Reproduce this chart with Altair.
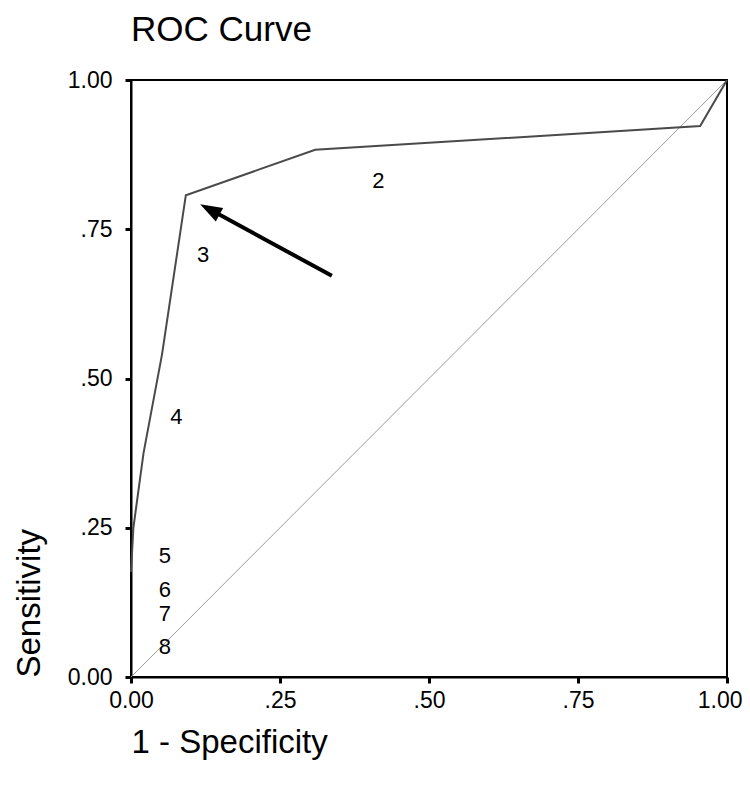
import math
import altair as alt
import pandas as pd

# ---- data ----
roc_fpr = [0.0, 0.004, 0.021, 0.052, 0.092, 0.309, 0.955, 1.0]
roc_tpr = [0.176, 0.25, 0.375, 0.54, 0.807, 0.883, 0.923, 1.0]

diag_x = [0.0, 1.0]
diag_y = [0.0, 1.0]

label_text = ["2", "3", "4", "5", "6", "7", "8"]
label_x = [0.415, 0.121, 0.076, 0.057, 0.057, 0.057, 0.057]
label_y = [0.831, 0.707, 0.436, 0.202, 0.146, 0.106, 0.050]

arrow_tail = [0.337, 0.672]
arrow_tip = [0.116, 0.792]

tick_values = [0.0, 0.25, 0.5, 0.75, 1.0]

W, H = 596, 597
FONT = "Liberation Sans"

roc_df = pd.DataFrame({"fpr": roc_fpr, "tpr": roc_tpr, "order": list(range(len(roc_fpr)))})
diag_df = pd.DataFrame({"fpr": diag_x, "tpr": diag_y})
lab_df = pd.DataFrame({"fpr": label_x, "tpr": label_y, "text": label_text})

# shaft stops a little before the tip (hidden under the head)
shaft_end = [arrow_tip[0] + 0.1 * (arrow_tail[0] - arrow_tip[0]),
             arrow_tip[1] + 0.1 * (arrow_tail[1] - arrow_tip[1])]
shaft_df = pd.DataFrame({"fpr": [arrow_tail[0], shaft_end[0]],
                         "tpr": [arrow_tail[1], shaft_end[1]],
                         "order": [0, 1]})
head_df = pd.DataFrame({"fpr": [arrow_tip[0]], "tpr": [arrow_tip[1]]})

# head orientation in screen pixels
dx = (arrow_tail[0] - arrow_tip[0]) * W
dy = -(arrow_tail[1] - arrow_tip[1]) * H
head_angle = (math.degrees(math.atan2(-dx, dy)) + 360) % 360

label_expr = "datum.value > 0 && datum.value < 1 ? slice(datum.label, 1) : datum.label"

x_scale = alt.Scale(domain=[0, 1], nice=False, zero=False)
y_scale = alt.Scale(domain=[0, 1], nice=False, zero=False)

x_axis = alt.Axis(
    title="1 - Specificity", values=tick_values, format=".2f", labelExpr=label_expr,
    grid=False, domainColor="black", domainWidth=2, tickColor="black", tickWidth=3,
    tickSize=6, labelFont=FONT, labelFontSize=23, labelColor="black", labelPadding=6,
    labelFlush=False, labelOverlap=False,
    labelAlign={"expr": "datum.value == 1 ? 'right' : 'center'"},
    labelOffset={"expr": "datum.value == 1 ? 15 : 0"},
    titleFont=FONT, titleFontSize=33, titleFontWeight="normal", titleColor="black",
    titleAnchor="start", titleAlign="left", titleBaseline="alphabetic", titleX=0, titleY=75,
)
y_axis = alt.Axis(
    title="Sensitivity", values=tick_values, format=".2f", labelExpr=label_expr,
    grid=False, domainColor="black", domainWidth=2, tickColor="black", tickWidth=3,
    tickSize=6, labelFont=FONT, labelFontSize=23, labelColor="black", labelPadding=13,
    labelFlush=False, labelOverlap=False,
    titleFont=FONT, titleFontSize=33, titleFontWeight="normal", titleColor="black",
    titleAngle=270, titleAlign="left", titleBaseline="alphabetic", titleX=-92, titleY=H,
)

base_x = alt.X("fpr:Q", scale=x_scale, axis=x_axis)
base_y = alt.Y("tpr:Q", scale=y_scale, axis=y_axis)

diag = alt.Chart(diag_df).mark_line(color="#9a9a9a", strokeWidth=1).encode(x=base_x, y=base_y)

roc = alt.Chart(roc_df).mark_line(color="#4a4a4a", strokeWidth=2).encode(
    x=base_x, y=base_y, order="order:Q")

labels = alt.Chart(lab_df).mark_text(
    font=FONT, fontSize=22, color="black", align="center", baseline="middle"
).encode(x=base_x, y=base_y, text="text:N")

shaft = alt.Chart(shaft_df).mark_line(color="black", strokeWidth=4, strokeCap="butt").encode(
    x=base_x, y=base_y, order="order:Q")

head = alt.Chart(head_df).mark_point(
    shape="M0,0L0.7,2L-0.7,2Z", size=484, filled=True, color="black", opacity=1,
    angle=head_angle, strokeWidth=0
).encode(x=base_x, y=base_y)

chart = alt.layer(diag, roc, labels, shaft, head).properties(
    width=W, height=H,
    background="white",
    title=alt.TitleParams(
        "ROC Curve", anchor="start", frame="group", font=FONT, fontSize=35,
        fontWeight="normal", color="black", baseline="alphabetic", offset=-7,
    ),
    padding={"left": 123, "top": 72, "right": 15, "bottom": 90},
    autosize=alt.AutoSizeParams(type="none"),
).configure_view(stroke="black", strokeWidth=2)

chart.save("out.html", embed_options={"renderer": "svg", "actions": False})
